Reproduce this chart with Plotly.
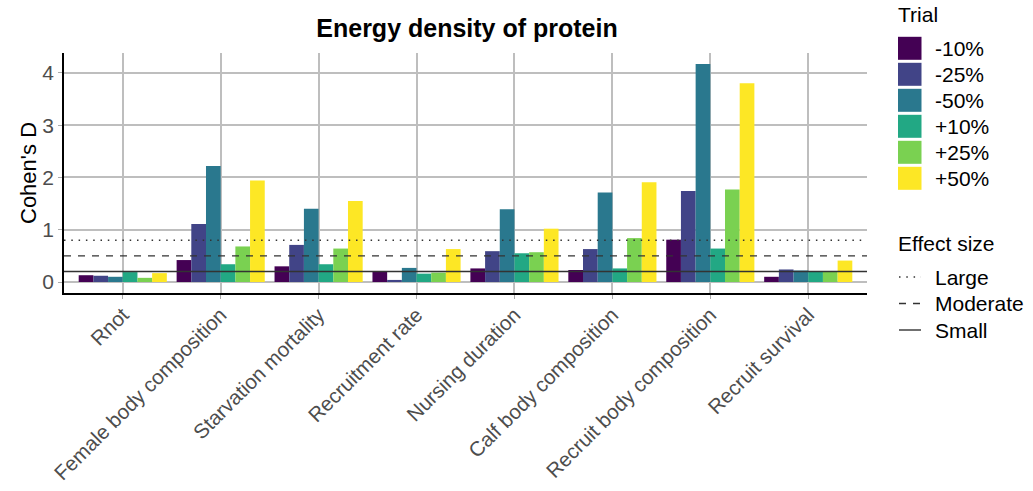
import plotly.graph_objects as go

# ---------------- data ----------------
categories = ["Rnot", "Female body composition", "Starvation mortality", "Recruitment rate",
              "Nursing duration", "Calf body composition", "Recruit body composition", "Recruit survival"]
trials = ["-10%", "-25%", "-50%", "+10%", "+25%", "+50%"]
colors = ["#440154", "#414487", "#2A788E", "#22A884", "#7AD151", "#FDE725"]

vals_m10 = [0.13, 0.42, 0.30, 0.20, 0.26, 0.23, 0.81, 0.10]
vals_m25 = [0.12, 1.11, 0.71, 0.04, 0.59, 0.63, 1.74, 0.24]
vals_m50 = [0.10, 2.22, 1.40, 0.27, 1.39, 1.71, 4.17, 0.22]
vals_p10 = [0.19, 0.34, 0.34, 0.16, 0.55, 0.26, 0.64, 0.20]
vals_p25 = [0.08, 0.68, 0.64, 0.18, 0.57, 0.84, 1.77, 0.20]
vals_p50 = [0.17, 1.94, 1.55, 0.63, 1.02, 1.91, 3.80, 0.41]
series = [vals_m10, vals_m25, vals_m50, vals_p10, vals_p25, vals_p50]

effect_labels = ["Large", "Moderate", "Small"]
effect_values = [0.8, 0.5, 0.2]
effect_dashes = ["1.5px,5.8px", "7px,7px", "solid"]

y_ticks = [0, 1, 2, 3, 4]

# ---------------- layout geometry ----------------
W, H = 1033, 491
L, R, T, B = 64, 166, 53, 198
PW, PH = W - L - R, H - T - B

def px(x):
    return (x - L) / PW

def py(y):
    return (H - B - y) / PH

FONT = "Liberation Sans, Arial, sans-serif"
GREY = "#4D4D4D"
FS = 21

fig = go.Figure()
for name, vals, col in zip(trials, series, colors):
    fig.add_trace(go.Bar(x=categories, y=vals, name=name, marker=dict(color=col, line=dict(width=0)),
                         showlegend=False))

shapes = []
for v, d in zip(effect_values, effect_dashes):
    shapes.append(dict(type="line", xref="paper", yref="y", x0=0, x1=1, y0=v, y1=v,
                       line=dict(color="#333333", width=1.4, dash=d), layer="above"))

annotations = []
# Trial legend
annotations.append(dict(text="Trial", xref="paper", yref="paper", x=px(896), y=py(15),
                        xanchor="left", yanchor="middle", showarrow=False,
                        font=dict(family=FONT, size=FS, color="black")))
for i, (name, col) in enumerate(zip(trials, colors)):
    cy = 48.3 + 26 * i
    shapes.append(dict(type="rect", xref="paper", yref="paper",
                       x0=px(898), x1=px(921.5), y0=py(cy - 11.5), y1=py(cy + 11.5),
                       fillcolor=col, line=dict(width=0), layer="above"))
    annotations.append(dict(text=name, xref="paper", yref="paper", x=px(933), y=py(cy),
                            xanchor="left", yanchor="middle", showarrow=False,
                            font=dict(family=FONT, size=FS, color="black")))
# Effect size legend
annotations.append(dict(text="Effect size", xref="paper", yref="paper", x=px(896), y=py(243),
                        xanchor="left", yanchor="middle", showarrow=False,
                        font=dict(family=FONT, size=FS, color="black")))
for i, (lab, d) in enumerate(zip(effect_labels, effect_dashes)):
    cy = 277 + 26.5 * i
    shapes.append(dict(type="line", xref="paper", yref="paper", x0=px(899), x1=px(921),
                       y0=py(cy), y1=py(cy), line=dict(color="#333333", width=1.4, dash=d)))
    annotations.append(dict(text=lab, xref="paper", yref="paper", x=px(933), y=py(cy),
                            xanchor="left", yanchor="middle", showarrow=False,
                            font=dict(family=FONT, size=FS, color="black")))

fig.update_layout(
    width=W, height=H,
    margin=dict(l=L, r=R, t=T, b=B, pad=0, autoexpand=False),
    paper_bgcolor="white", plot_bgcolor="white",
    barmode="group", bargap=0.1, bargroupgap=0,
    title=dict(text="<b>Energy density of protein</b>", xref="container", x=467 / W, xanchor="center",
               yref="container", y=1 - 28 / H, yanchor="middle",
               font=dict(family=FONT, size=25, color="black")),
    font=dict(family=FONT),
    shapes=shapes, annotations=annotations,
    showlegend=False,
)
fig.update_xaxes(
    range=[-0.6, 7.6], tickangle=-45, automargin=False, ticklabelstandoff=-4,
    tickfont=dict(family=FONT, size=20.5, color=GREY),
    showgrid=True, gridcolor="#BEBEBE", gridwidth=1.6,
    showline=True, linecolor="black", linewidth=1.6,
    ticks="outside", ticklen=4, tickcolor="#AAAAAA", tickwidth=1.4,
    zeroline=False,
)
fig.update_yaxes(
    range=[-0.21, 4.38], tickvals=y_ticks, automargin=False,
    tickfont=dict(family=FONT, size=FS, color=GREY),
    title=dict(text="Cohen's D", font=dict(family=FONT, size=22, color="black"), standoff=0),
    showgrid=True, gridcolor="#BEBEBE", gridwidth=1.6,
    showline=True, linecolor="black", linewidth=1.6,
    ticks="outside", ticklen=4, tickcolor="#AAAAAA", tickwidth=1.4,
    zeroline=False,
)

fig.write_html("out.html")
